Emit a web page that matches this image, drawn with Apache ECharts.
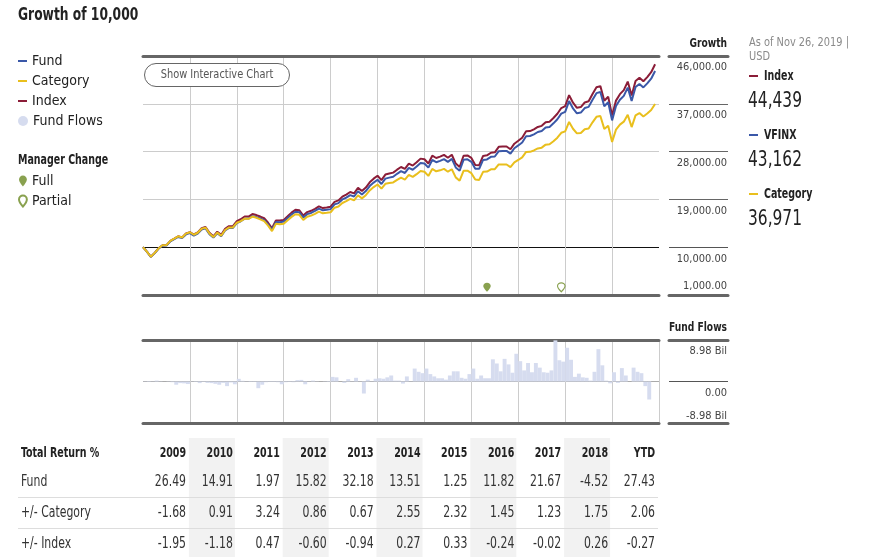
<!DOCTYPE html>
<html><head><meta charset="utf-8">
<script src="https://cdn.jsdelivr.net/npm/echarts@6/dist/echarts.min.js"></script>
<style>html,body{margin:0;padding:0;background:#fff}#c{width:872px;height:557px}</style>
</head><body><div id="c"></div>
<script>
// ---------- DATA ----------
const monthNames = ['Jan','Feb','Mar','Apr','May','Jun','Jul','Aug','Sep','Oct','Nov','Dec'];
const years = [2009,2010,2011,2012,2013,2014,2015,2016,2017,2018,2019];

// Growth of 10,000 (month-end values, Dec 2008 .. Nov 26 2019)
const fundGrowth = [10000,
 9157,8182,8899,9751,10296,10317,11097,11498,11927,11705,12407,12649,
 12192,12570,13328,13539,12457,11804,12632,12062,13138,13637,13638,14535,
 14879,15389,15395,15851,15672,15410,15097,14277,13273,14724,14692,14821,
 15485,16154,16685,16580,15583,16225,16451,16821,17255,16936,17034,17166,
 18055,18301,18987,19353,19806,19541,20536,19940,20566,21512,22168,22690,
 21905,22906,23098,23269,23816,24309,23974,24933,24584,25184,25861,25756,
 24983,26420,26003,26252,26591,26075,26623,25017,24399,26458,26538,26078,
 24785,24753,26431,26534,27012,27082,28081,28120,28126,27614,28636,29160,
 29714,30894,30931,31250,31691,31887,32544,32645,33317,34094,35140,35479,
 37512,36128,35210,35344,36196,36420,37775,39006,39229,36545,37291,33875,
 36588,37762,38495,40054,37510,40155,40733,40090,40840,41726,43162];
const indexGrowth = [10000,
 9169,8203,8933,9801,10362,10396,11197,11616,12064,11855,12582,12844,
 12391,12786,13568,13795,12704,12048,12904,12332,13444,13967,13979,14911,
 15258,15775,15775,16236,16047,15772,15447,14603,13570,15048,15009,15135,
 15819,16511,17060,16960,15948,16611,16849,17235,17688,17368,17475,17620,
 18542,18806,19524,19912,20390,20129,21166,20564,21224,22213,22904,23456,
 22641,23671,23865,24037,24597,25101,24748,25733,25368,25982,26676,26562,
 25758,27231,26796,27045,27386,26847,27403,25742,25102,27212,27286,26806,
 25481,25451,27182,27293,27790,27867,28898,28944,28956,28434,29489,30036,
 30608,31824,31862,32191,32645,32847,33524,33628,34320,35120,36198,36551,
 38637,37201,36249,36380,37246,37469,38855,40110,40331,37565,38320,34804,
 37598,38812,39573,41184,38575,41303,41906,41253,42033,42953,44439];
const categoryGrowth = [10000,
 9167,8200,8928,9794,10353,10386,11184,11600,12046,11835,12558,12817,
 12346,12720,13479,13683,12580,11913,12741,12157,13233,13726,13718,14611,
 14916,15387,15352,15765,15545,15245,14895,14047,13025,14409,14340,14426,
 15062,15703,16210,16098,15120,15733,15943,16291,16701,16382,16467,16584,
 17436,17666,18321,18666,19095,18832,19780,19198,19793,20695,21317,21809,
 21016,21935,22077,22199,22678,23103,22739,23604,23229,23751,24343,24199,
 23427,24727,24289,24475,24743,24216,24680,23146,22530,24384,24410,23940,
 22728,22674,24184,24252,24662,24699,25582,25589,25567,25074,25973,26423,
 26900,27944,27955,28219,28592,28743,29312,29377,29955,30627,31542,31819,
 33588,32302,31432,31502,32211,32363,33514,34552,34698,32273,32880,29824,
 32132,33083,33641,34919,32619,34830,35246,34602,35163,35834,36971];

// Monthly fund flows, billions (Jan 2009 .. Oct 2019)
const fundFlows = [
 -0.05,-0.1,-0.05,0.2,0.05,0,-0.05,-0.15,-0.7,-0.35,-0.4,-0.55,
 0.05,-0.1,-0.35,-0.1,-0.3,-0.35,-0.5,-0.7,-0.3,-1.0,-0.2,-0.6,
 0.58,0.15,-0.05,-0.1,-0.1,-1.45,-0.7,-0.15,-0.1,-0.1,-0.15,-0.6,
 -0.15,-0.1,-0.15,0.3,0.35,-0.6,0.05,0.2,0.05,0,0.05,0.1,
 1.0,0.9,0,-0.3,0.5,0.05,0.8,0.05,-2.6,0.4,0.05,0.6,
 0.7,0.6,0.9,1.3,0.2,0.2,-0.45,1.1,0.05,2.8,2.1,1.8,
 2.8,1.6,1.1,0.7,0.7,0.4,1.3,2.2,2.2,0.8,0.6,1.6,
 2.8,0.6,1.3,0.7,0.7,4.8,3.9,2.2,4.9,3.7,1.9,6.0,
 4.4,2.4,4.0,2.0,4.0,3.0,2.0,1.9,2.4,8.9,4.6,4.3,
 7.3,4.7,1.0,1.7,0.9,0.8,0.2,2.1,7.0,3.5,0.2,-0.4,
 2.0,-0.3,2.9,1.3,0,3.0,2.1,1.8,-1.0,-3.9];

// Manager changes
const fullChanges = ['Apr 2016'];
const partialChanges = ['Nov 2017'];
const markerLevel = 1600;

// Axis ticks
const growthMin = 1000, growthMax = 46000, growthStep = 9000;
const flowMax = 8.98;

// Right panel
const panelNames = ['Index','VFINX','Category'];
const panelValues = [44439, 43162, 36971];

// Table
const tableYears = ['2009','2010','2011','2012','2013','2014','2015','2016','2017','2018','YTD'];
const fundReturns = [26.49,14.91,1.97,15.82,32.18,13.51,1.25,11.82,21.67,-4.52,27.43];
const vsCategory = [-1.68,0.91,3.24,0.86,0.67,2.55,2.32,1.45,1.23,1.75,2.06];
const vsIndex = [-1.95,-1.18,0.47,-0.60,-0.94,0.27,0.33,-0.24,-0.02,0.26,-0.27];
const rowLabels = ['Fund','+/- Category','+/- Index'];

// ---------- BUILD ----------
const growthDates = ['Dec 2008'];
const flowMonths = [];
years.forEach(y => monthNames.forEach(m => { growthDates.push(m + ' ' + y); flowMonths.push(m + ' ' + y); }));

const FONT = '"Liberation Sans Narrow","DejaVu Sans Condensed","Roboto Condensed",Roboto,sans-serif';
const NARROW = 0.78;
const PIN = 'path://M5,0C2.2,0,0,2.2,0,5C0,8.2,5,14,5,14C5,14,10,8.2,10,5C10,2.2,7.8,0,5,0Z';
const C = { fund:'#3a58a8', cat:'#e9bf1d', idx:'#8b1d38', flow:'#d6dcef', pin:'#6b8a23', text:'#222' };
const thick = { show:true, onZero:false, lineStyle:{ color:'#666', width:3 } };
const off = { show:false };

function fmtGrowth(v){ return v.toLocaleString('en-US',{minimumFractionDigits:2, maximumFractionDigits:2}); }

const graphic = [];
function txt(x, y, text, o){
  o = o || {};
  graphic.push({ type:'text', x:x, y:y, scaleX:o.sx || NARROW, silent:true, z:11, style:{ text:text, fontFamily:FONT, fontSize:o.size||13,
    fontWeight:o.bold?'bold':'normal', fill:o.color||C.text, align:o.align||'left', verticalAlign:'middle' } });
}
// titles
txt(18, 15, 'Growth of 10,000', {size:17.5, bold:true});
txt(18, 160, 'Manager Change', {size:13.5, bold:true});
txt(727, 44, 'Growth', {size:13, bold:true, align:'right'});
txt(727, 328, 'Fund Flows', {size:13, bold:true, align:'right'});
txt(749, 43, 'As of Nov 26, 2019 |', {size:13, color:'#8a8a8a', sx:0.84});
txt(749, 57, 'USD', {size:13, color:'#8a8a8a', sx:0.84});
// right panel
const panelColors = [C.idx, C.fund, C.cat];
panelNames.forEach((n, i) => {
  const y = 76 + i * 59;
  graphic.push({ type:'rect', silent:true, shape:{x:749, y:y-1, width:9, height:2}, style:{fill:panelColors[i]} });
  txt(764, y, n, {size:13.5, bold:true});
  txt(748, y + 25, panelValues[i].toLocaleString('en-US'), {size:22, color:'#222'});
});
// interactive chart button
graphic.push({ type:'rect', silent:true, shape:{x:144.5, y:63.5, width:145, height:23, r:11.5},
  style:{ fill:'#fff', stroke:'#666', lineWidth:1 }, z:10 });
txt(217, 75, 'Show Interactive Chart', {size:13, color:'#555', align:'center', sx:0.84});
// table
const colRight = k => 186 + 46.9 * k;
tableYears.forEach((yr, k) => {
  if (k % 2 === 1) graphic.push({ type:'rect', silent:true, shape:{x:colRight(k)-44, y:438, width:46, height:119}, style:{fill:'#f2f2f2'} });
});
[497, 528].forEach(y => graphic.push({ type:'line', silent:true, shape:{x1:18, y1:y+0.5, x2:658, y2:y+0.5}, style:{stroke:'#ddd', lineWidth:1} }));
txt(21, 453, 'Total Return %', {size:13.5, bold:true});
tableYears.forEach((yr, k) => txt(colRight(k), 453, yr, {size:13.5, bold:true, align:'right'}));
[fundReturns, vsCategory, vsIndex].forEach((row, r) => {
  const y = 482 + r * 31;
  txt(21, y, rowLabels[r], {size:15.5, color:'#333'});
  row.forEach((v, k) => txt(colRight(k), y, v.toFixed(2), {size:15.5, color:'#333', align:'right'}));
});

const legendText = {fontFamily:FONT, fontSize:14, color:'#222'};
const chart = echarts.init(document.getElementById('c'));
chart.setOption({
  animation:false,
  backgroundColor:'#fff',
  textStyle:{ fontFamily:FONT },
  grid:[
    {left:143, top:56, width:516, height:239},
    {left:669, top:56, width:59, height:239},
    {left:143, top:340, width:516, height:83},
    {left:669, top:340, width:59, height:83}
  ],
  legend:[
    { data:['Fund','Category','Index'], orient:'vertical', left:18, top:54, padding:0, icon:'rect', itemWidth:9, itemHeight:2,
      itemGap:6, selectedMode:false, textStyle:legendText },
    { data:['Fund Flows'], left:18, top:114, padding:0, icon:'circle', itemWidth:10, itemHeight:10, selectedMode:false,
      textStyle:legendText },
    { data:['Full','Partial'], orient:'vertical', left:18, top:174, padding:0, icon:PIN, itemWidth:8, itemHeight:11, itemGap:6,
      selectedMode:false, textStyle:legendText }
  ],
  xAxis:[
    { type:'category', gridIndex:0, data:growthDates, boundaryGap:false, position:'bottom', axisLine:thick,
      axisTick:off, axisLabel:off,
      splitLine:{ show:true, interval:(i) => i % 12 === 0 && i > 0 && i < growthDates.length - 1, lineStyle:{color:'#ccc', width:1} } },
    { type:'category', gridIndex:0, data:growthDates, boundaryGap:false, position:'top', axisLine:thick, axisTick:off, axisLabel:off, splitLine:off },
    { type:'value', gridIndex:1, min:0, max:1, position:'bottom', axisLine:thick, axisTick:off, axisLabel:off, splitLine:off },
    { type:'value', gridIndex:1, min:0, max:1, position:'top', axisLine:thick, axisTick:off, axisLabel:off, splitLine:off },
    { type:'category', gridIndex:2, data:flowMonths, boundaryGap:true, position:'bottom', axisLine:thick, axisTick:off, axisLabel:off,
      splitLine:{ show:true, interval:(i) => i % 12 === 0 && i > 0 && i < flowMonths.length, lineStyle:{color:'#ccc', width:1} } },
    { type:'category', gridIndex:2, data:flowMonths, position:'top', axisLine:thick, axisTick:off, axisLabel:off, splitLine:off },
    { type:'value', gridIndex:3, min:0, max:1, position:'bottom', axisLine:thick, axisTick:off, axisLabel:off, splitLine:off },
    { type:'value', gridIndex:3, min:0, max:1, position:'top', axisLine:thick, axisTick:off, axisLabel:off, splitLine:off }
  ],
  yAxis:[
    { type:'value', gridIndex:0, min:growthMin, max:growthMax, interval:growthStep, position:'right', axisLine:off, axisTick:off, axisLabel:off,
      splitLine:{ show:true, lineStyle:{ color:['transparent','#111','#ccc','#ccc','#ccc','transparent'], width:1 } } },
    { type:'value', gridIndex:1, min:growthMin, max:growthMax, interval:growthStep, position:'right', axisLine:off, axisTick:off,
      axisLabel:{ inside:true, margin:1, verticalAlign:'top', padding:[6,0,0,0], fontFamily:FONT, fontSize:11, color:'#444',
        formatter:(v) => v === growthMin ? '' : fmtGrowth(v) },
      splitLine:{ show:true, lineStyle:{ color:['transparent','#555','#666','#666','#666','transparent'], width:1 } } },
    { type:'value', gridIndex:1, min:growthMin, max:growthMax, interval:growthStep, position:'right', axisLine:off, axisTick:off, splitLine:off,
      axisLabel:{ inside:true, margin:1, verticalAlign:'bottom', padding:[0,0,3,0], fontFamily:FONT, fontSize:11, color:'#444',
        formatter:(v) => v === growthMin ? fmtGrowth(v) : '' } },
    { type:'value', gridIndex:2, min:-flowMax, max:flowMax, interval:flowMax, position:'right', axisLine:off, axisTick:off, axisLabel:off,
      splitLine:{ show:true, lineStyle:{ color:['transparent','#aaa','transparent'], width:1 } } },
    { type:'value', gridIndex:3, min:-flowMax, max:flowMax, interval:flowMax, position:'right', axisLine:off, axisTick:off,
      axisLabel:{ inside:true, margin:1, verticalAlign:'top', padding:[6,0,0,0], fontFamily:FONT, fontSize:11, color:'#444',
        formatter:(v) => v < 0 ? '' : (Math.abs(v) < 1e-9 ? '0.00' : v.toFixed(2) + ' Bil') },
      splitLine:{ show:true, lineStyle:{ color:['transparent','#555','transparent'], width:1 } } },
    { type:'value', gridIndex:3, min:-flowMax, max:flowMax, interval:flowMax, position:'right', axisLine:off, axisTick:off, splitLine:off,
      axisLabel:{ inside:true, margin:1, verticalAlign:'bottom', padding:[0,0,1,0], fontFamily:FONT, fontSize:11, color:'#444',
        formatter:(v) => v < -1e-9 ? v.toFixed(2) + ' Bil' : '' } }
  ],
  series:[
    { name:'Index', type:'line', xAxisIndex:0, yAxisIndex:0, data:indexGrowth, symbol:'none', showSymbol:false,
      lineStyle:{color:C.idx, width:2}, itemStyle:{color:C.idx}, z:3 },
    { name:'Fund', type:'line', xAxisIndex:0, yAxisIndex:0, data:fundGrowth, symbol:'none', showSymbol:false,
      lineStyle:{color:C.fund, width:2}, itemStyle:{color:C.fund}, z:4 },
    { name:'Category', type:'line', xAxisIndex:0, yAxisIndex:0, data:categoryGrowth, symbol:'none', showSymbol:false,
      lineStyle:{color:C.cat, width:2}, itemStyle:{color:C.cat}, z:5 },
    { name:'Fund Flows', type:'bar', xAxisIndex:4, yAxisIndex:3, data:fundFlows, barCategoryGap:'0%',
      itemStyle:{color:C.flow}, z:2 },
    { name:'Full', type:'scatter', xAxisIndex:0, yAxisIndex:0, data:fullChanges.map(d => [d, markerLevel]),
      symbol:PIN, symbolSize:[7.5,9], symbolOffset:[0,'-50%'], itemStyle:{color:C.pin}, z:6 },
    { name:'Partial', type:'scatter', xAxisIndex:0, yAxisIndex:0, data:partialChanges.map(d => [d, markerLevel]),
      symbol:PIN, symbolSize:[7.5,9], symbolOffset:[0,'-50%'], itemStyle:{color:'#fff', borderColor:C.pin, borderWidth:1.2}, z:6 }
  ],
  graphic: graphic
});
</script></body></html>
